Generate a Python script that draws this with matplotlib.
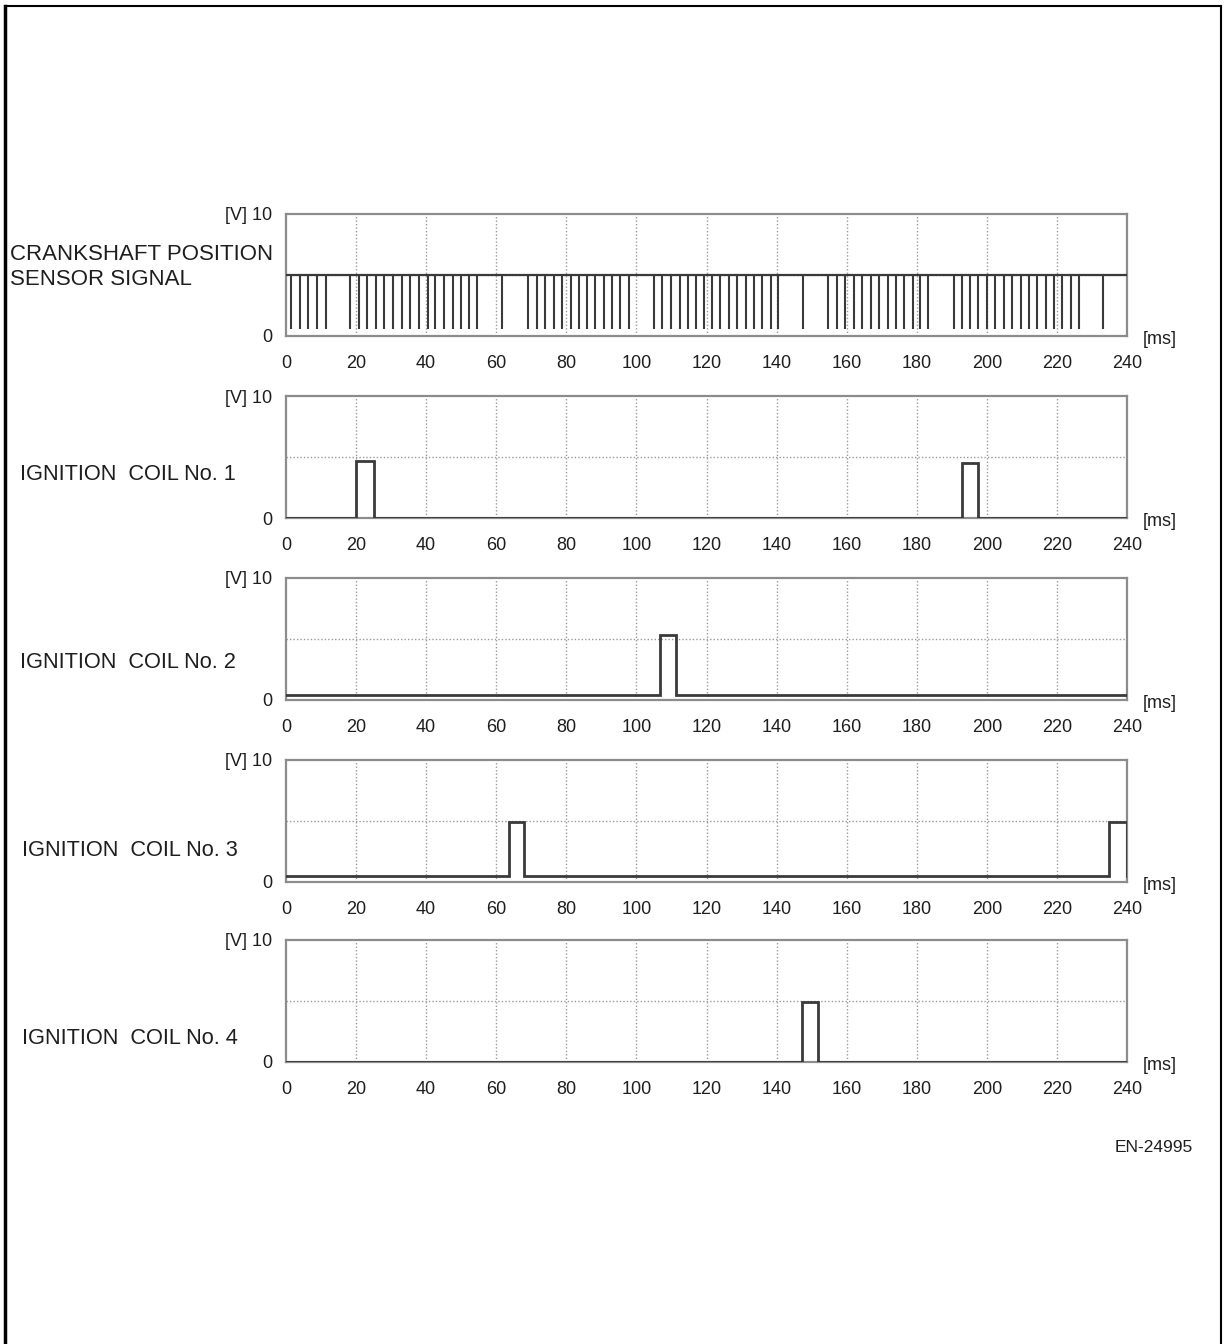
import numpy as np
import matplotlib
matplotlib.use("Agg")
import matplotlib.pyplot as plt
from matplotlib.lines import Line2D

plt.rcParams['font.family'] = ['Liberation Sans', 'DejaVu Sans']

# ==========================================
# datos
# ==========================================
x_ticks = [0, 20, 40, 60, 80, 100, 120, 140, 160, 180, 200, 220, 240]

# dientes del sensor de ciguenal (ms)
dientes = [1.4, 4.0, 6.4, 8.8, 11.3,
           18.3, 20.8, 23.2, 25.7, 28.1, 30.6, 33.0, 35.4, 37.9, 40.4, 42.6, 45.1, 47.6, 49.9, 52.2, 54.5,
           61.5,
           69.0, 71.6, 74.0, 76.4, 78.9, 81.3, 83.7, 85.9, 88.3, 90.7, 93.1, 95.4, 97.9,
           105.1, 107.4, 109.9, 112.3, 114.7, 117.1, 119.4, 121.5, 123.9, 126.4, 128.8, 131.2, 133.6,
           135.9, 138.3, 140.4,
           147.6,
           154.7, 157.1, 159.6, 162.1, 164.5, 166.9, 169.3, 171.8, 174.1, 176.4, 178.9, 181.0, 183.3,
           190.5, 192.8, 195.2, 197.5, 200.0, 202.4, 204.8, 207.2, 209.7, 212.0, 214.4, 216.9, 219.1,
           221.5, 223.9, 226.3,
           233.1]
nivel_alto_cig = 5.0
nivel_bajo_cig = 0.6

# bobinas: (inicio, fin, nivel alto) por pulso, y nivel base
bobina1_pulsos = [(20.0, 25.1, 4.7), (192.9, 197.6, 4.5)]
bobina2_pulsos = [(106.6, 111.3, 5.3)]
bobina3_pulsos = [(63.6, 67.9, 4.9), (235.0, 240.0, 4.9)]
bobina4_pulsos = [(147.2, 151.8, 4.9)]
bobina_base = [0.0, 0.45, 0.5, 0.0]

etiquetas = ["CRANKSHAFT POSITION\nSENSOR SIGNAL",
             "IGNITION  COIL No. 1",
             "IGNITION  COIL No. 2",
             "IGNITION  COIL No. 3",
             "IGNITION  COIL No. 4"]

# ==========================================
# figura
# ==========================================
W, H = 1227, 1344
fig = plt.figure(figsize=(W / 100, H / 100), dpi=100)

izq, ancho, alto = 286 / W, 841 / W, 122 / H
fondos = [336, 518, 700, 882, 1062]

color_traza = '#3a3a3a'
color_marco = '#8c8c8c'
color_texto = '#1e1e1e'


def forma_pulsos(pulsos, base):
    t = [0.0]
    v = [base]
    for ini, fin, alto_v in pulsos:
        t += [ini, ini, fin, fin]
        v += [base, alto_v, alto_v, base]
    t.append(240.0)
    v.append(v[-1] if pulsos[-1][1] >= 240 else base)
    return t, v


ejes = []
for i, fondo in enumerate(fondos):
    ax = fig.add_axes([izq, 1 - fondo / H, ancho, alto])
    ax.set_xlim(0, 240)
    ax.set_ylim(0, 10)
    for s in ax.spines.values():
        s.set_color(color_marco)
        s.set_linewidth(1.6)
    ax.set_xticks(x_ticks)
    ax.set_yticks([0, 10])
    ax.set_xticklabels([str(v) for v in x_ticks], fontsize=13, color=color_texto)
    ax.set_yticklabels(["0", "[V] 10"], fontsize=13, color=color_texto)
    ax.tick_params(length=0, pad=10)
    ax.tick_params(axis='x', pad=14)
    # rejilla punteada
    for xv in x_ticks[1:-1]:
        ax.axvline(xv, color='#9a9a9a', lw=1.0, ls=(0, (1, 1.5)), zorder=1)
    ax.axhline(5, color='#9a9a9a', lw=1.0, ls=(0, (1, 1.5)), zorder=1)
    ax.text(1.019, -0.03, "[ms]", transform=ax.transAxes, fontsize=13,
            color=color_texto, ha='left', va='center')
    ejes.append(ax)

# senal del ciguenal
ax = ejes[0]
ax.plot([0, 240], [nivel_alto_cig, nivel_alto_cig], color=color_traza, lw=1.6, zorder=3)
ax.vlines(dientes, nivel_bajo_cig, nivel_alto_cig, color=color_traza, lw=1.5, zorder=3)

# bobinas
for ax, pulsos, base in zip(ejes[1:],
                            [bobina1_pulsos, bobina2_pulsos, bobina3_pulsos, bobina4_pulsos],
                            bobina_base):
    t, v = forma_pulsos(pulsos, base)
    ax.plot(t, v, color=color_traza, lw=2.0, zorder=3, solid_joinstyle='miter')

# etiquetas de la izquierda
fig.text(10 / W, 1 - 267 / H, etiquetas[0], fontsize=16, color=color_texto,
         ha='left', va='center', linespacing=1.2)
pos_y = [474, 662, 850, 1038]
pos_x = [20, 20, 22, 22]
for et, xp, yp in zip(etiquetas[1:], pos_x, pos_y):
    fig.text(xp / W, 1 - yp / H, et, fontsize=15.7, color=color_texto, ha='left', va='center')

fig.text(1193 / W, 1 - 1148 / H, "EN-24995", fontsize=12.5, color=color_texto,
         ha='right', va='center')

# marco exterior
x0, x1, y1 = 5 / W, 1221 / W, 1 - 6 / H
fig.add_artist(Line2D([x0, x0], [0, y1], color='black', lw=2.5))
fig.add_artist(Line2D([x0, x1], [y1, y1], color='black', lw=1.5))
fig.add_artist(Line2D([x1, x1], [0, y1], color='black', lw=1.5))

fig.savefig("out.png", dpi=100, facecolor='white')
